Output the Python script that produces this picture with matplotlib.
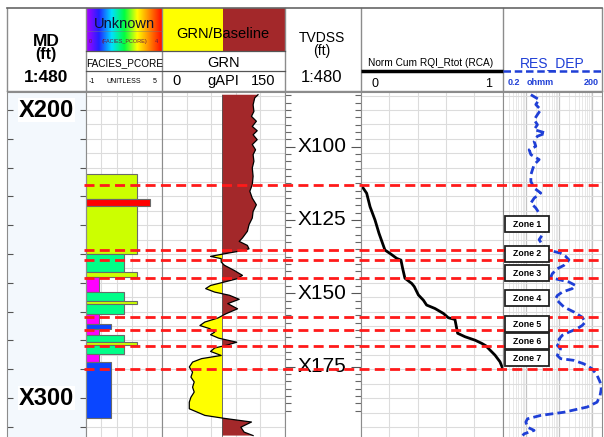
import numpy as np
import matplotlib
matplotlib.use("Agg")
import matplotlib.pyplot as plt
from matplotlib.colors import LinearSegmentedColormap
from matplotlib.patches import Rectangle

plt.rcParams['font.family'] = ['Liberation Sans', 'DejaVu Sans']

# ---- well data (MD in ft, X-prefixed depths) ----
zone_md = [226.2, 248.6, 252.0, 258.3, 272.0, 276.5, 281.8, 289.9]
zone_names = ['Zone 1', 'Zone 2', 'Zone 3', 'Zone 4', 'Zone 5', 'Zone 6', 'Zone 7']
zone_label_md = [239.6, 249.9, 256.6, 265.3, 274.3, 280.2, 286.1]

fac_top = [222.3, 230.9, 233.2, 250.1, 256.1, 258.0, 263.1, 266.3, 267.5,
           270.9, 274.4, 276.0, 278.1, 280.4, 281.6, 284.8, 287.4]
fac_base = [230.9, 233.2, 250.1, 256.1, 258.0, 263.1, 266.3, 267.5, 270.9,
            274.4, 276.0, 278.1, 280.4, 281.6, 284.8, 287.4, 306.8]
fac_code = [3, 4, 3, 2, 3, 0, 2, 3, 2, 0, 1, 0, 2, 3, 2, 0, 1]
fac_colors = ['#ff00ff', '#0a46ff', '#00ff88', '#ccff00', '#ff0000']

gr_md = [194.7, 195.8, 198.2, 200.5, 202.2, 203.9, 205.7, 207.2, 208.6, 210.3,
         212.0, 213.8, 215.5, 217.8, 220.1, 223.0, 225.9, 228.2, 230.6, 232.9,
         235.2, 237.5, 239.8, 242.1, 244.4, 245.6, 247.0, 248.2, 249.1, 249.9,
         250.8, 251.6, 252.8, 253.9, 255.7, 257.4, 258.6, 259.7, 260.9, 262.0,
         263.2, 264.3, 265.7, 267.2, 269.0, 270.7, 272.2, 273.6, 274.8, 275.9,
         277.1, 278.0, 279.2, 280.6, 281.7, 282.6, 283.8, 285.2, 286.3, 287.5,
         289.2, 291.0, 292.7, 294.4, 296.2, 297.9, 299.7, 301.4, 303.7, 306.0,
         307.0, 308.3, 310.1, 311.8, 313.0]
gr_api = [117, 113, 111, 112, 109, 115, 110, 116, 111, 116,
          110, 114, 111, 112, 110, 111, 110, 107, 110, 115,
          111, 110, 106, 104, 98, 94, 104, 106, 92, 76,
          59, 72, 72, 76, 88, 98, 91, 76, 59, 53,
          64, 82, 94, 80, 92, 78, 68, 52, 46, 58,
          64, 59, 69, 91, 78, 64, 59, 72, 48, 37,
          33, 37, 35, 39, 37, 39, 35, 33, 33, 52,
          75, 109, 96, 100, 111]
gr_baseline = 73

rqi_md = [226.0, 228.9, 233.6, 238.2, 242.8, 248.6, 249.8, 251.5, 252.1, 255.0,
          258.4, 260.2, 261.3, 264.2, 266.0, 267.7, 268.9, 270.6, 272.1, 272.7,
          277.5, 278.7, 279.9, 281.0, 281.8, 283.3, 285.1, 287.4, 289.7]
rqi_val = [0.0, 0.04, 0.064, 0.099, 0.127, 0.169, 0.205, 0.252, 0.282, 0.294,
           0.31, 0.358, 0.376, 0.405, 0.44, 0.463, 0.522, 0.581, 0.616, 0.663,
           0.682, 0.734, 0.805, 0.852, 0.88, 0.91, 0.946, 0.981, 1.0]

res_md = [194.7, 196.4, 198.1, 199.9, 201.6, 203.4, 205.1, 206.8, 208.0, 209.1,
          210.9, 212.6, 213.8, 215.5, 217.2, 219.0, 220.7, 222.5, 224.8, 227.1,
          228.8, 230.6, 232.3, 234.0, 235.8, 238.1, 239.8, 241.6, 243.3, 245.0,
          246.8, 248.5, 249.7, 250.8, 252.0,
          252.8, 253.9, 255.1, 256.8, 258.0, 258.6, 259.7, 260.9, 262.0, 263.2,
          264.4, 265.5, 266.7, 268.4, 270.1, 271.9, 273.6, 274.8, 275.9, 277.1,
          278.2, 279.6, 280.6, 281.7, 282.9, 284.0, 285.2, 286.3, 286.9, 288.1,
          289.8, 292.1, 294.4, 296.8, 299.1, 301.4, 303.1, 304.9, 306.0, 307.2,
          308.3, 310.1, 311.2, 312.4, 313.0]
res_ohmm = [1.42, 2.52, 2.0, 2.82, 2.24, 1.78, 2.24, 1.78, 3.99, 2.24,
            1.78, 2.0, 1.26, 1.42, 2.52, 1.78, 1.59, 1.42, 1.42, 1.78,
            2.82, 1.78, 1.42, 2.0, 2.52, 2.24, 2.82, 3.99, 3.17, 2.52,
            3.17, 4.48, 11.2, 15.9, 20.0,
            17.8, 14.2, 8.93, 6.32, 5.64, 7.96, 20.0, 31.7, 25.2, 12.6,
            8.93, 7.96, 10.0, 14.2, 28.3, 50.2, 63.2, 50.2, 35.6, 20.0,
            12.6, 10.0, 11.2, 8.93, 11.2, 10.0, 8.93, 11.2, 28.3, 56.4,
            100, 142, 175, 190, 175, 142, 71.0, 14.2, 2.82, 1.12,
            1.0, 1.12, 1.78, 0.89, 0.80]

md_labels = [200, 300]
tvd_labels = [100, 125, 150, 175]
TVD_REF_MD = 212.7      # MD of TVDSS X100
TVD_STRETCH = 1.0187    # MD ft per TVDSS ft

# ---- layout (pixels) ----
W, H = 604, 437
HDR_TOP, HDR_BOT, BODY_TOP = 8, 91, 92
X_MD, X_FAC, X_GR, X_TVD, X_RQI, X_RES, X_END = 7, 86, 162.3, 285, 361, 502.7, 602
MD_TOP, MD_BOT = 193.75, 313.5
EDGE = '#8c8c8c'
GRID = '#dcdcdc'
BROWN = '#a3282a'
BLUE = '#1f3fd6'

fig = plt.figure(figsize=(W / 100, H / 100), dpi=100)


def px_axes(x0, y0, x1, y1):
    return fig.add_axes([x0 / W, 1 - y1 / H, (x1 - x0) / W, (y1 - y0) / H])


def body_axes(x0, x1, face='white'):
    ax = px_axes(x0, BODY_TOP, x1, H)
    ax.set_facecolor(face)
    ax.set_ylim(MD_BOT, MD_TOP)
    ax.tick_params(which='both', left=False, right=False, bottom=False,
                   labelleft=False, labelbottom=False)
    for s in ax.spines.values():
        s.set_color(EDGE)
    ax.spines['bottom'].set_visible(False)
    return ax


def md_grid(ax):
    ax.set_yticks(np.arange(195, 315, 5))
    ax.grid(axis='y', color=GRID, lw=0.8)
    ax.set_axisbelow(True)


# MD track
ax_md = body_axes(X_MD, X_FAC, face='#f3f8fd')
ax_md.set_xlim(0, 1)
ax_md.set_yticks(np.arange(200, 320, 10))
ax_md.tick_params(axis='y', left=True, right=True, direction='in', length=4,
                  color='#555555', width=0.8)
for d in md_labels:
    ax_md.text(0.5, d, 'X%d' % d, ha='center', va='center', fontsize=17,
               fontweight='bold', bbox=dict(fc='white', ec='none', pad=0.5))

# facies track
ax_fac = body_axes(X_FAC, X_GR)
ax_fac.set_xlim(-1, 5)
ax_fac.set_xticks(np.linspace(-1, 5, 6))
ax_fac.grid(axis='x', color=GRID, lw=0.8)
md_grid(ax_fac)
ftop = np.array(fac_top)
fbase = np.array(fac_base)
fcode = np.array(fac_code)
ax_fac.barh((ftop + fbase) / 2, fcode + 1, height=fbase - ftop, left=-1,
            color=[fac_colors[c] for c in fac_code], edgecolor='#6a6a6a', lw=0.8)

# GR track
ax_gr = body_axes(X_GR, X_TVD)
ax_gr.set_xlim(0, 150)
ax_gr.set_xticks(np.linspace(0, 150, 6))
ax_gr.grid(axis='x', color=GRID, lw=0.8)
md_grid(ax_gr)
gmd = np.array(gr_md)
gapi = np.array(gr_api)
ax_gr.fill_betweenx(gmd, gapi, gr_baseline, where=gapi >= gr_baseline,
                    interpolate=True, color=BROWN, lw=0)
ax_gr.fill_betweenx(gmd, gapi, gr_baseline, where=gapi <= gr_baseline,
                    interpolate=True, color='#ffff00', lw=0)
ax_gr.plot([gr_baseline, gr_baseline], [gmd[0], gmd[-1]], color='#555555', lw=0.6)
ax_gr.plot(gapi, gmd, color='black', lw=0.9)

# TVDSS track
ax_tvd = body_axes(X_TVD, X_RQI)
ax_tvd.set_xlim(0, 1)
tvd_minor = TVD_REF_MD + (np.arange(82.5, 192.5, 2.5) - 100) * TVD_STRETCH
tvd_major = TVD_REF_MD + (np.array(tvd_labels) - 100) * TVD_STRETCH
ax_tvd.set_yticks(tvd_minor, minor=True)
ax_tvd.set_yticks(tvd_major)
ax_tvd.tick_params(axis='y', which='minor', left=True, right=True, direction='in',
                   length=4, color='#666666', width=0.8)
ax_tvd.tick_params(axis='y', which='major', left=True, right=True, direction='in',
                   length=7, color='#555555', width=0.8)
ax_tvd.set_ylim(MD_BOT, MD_TOP)
for t, d in zip(tvd_labels, tvd_major):
    ax_tvd.text(0.49, d, 'X%d' % t, ha='center', va='center', fontsize=15)

# normalised cumulative RQI track
ax_rqi = body_axes(X_RQI, X_RES)
ax_rqi.set_xlim(0, 1)
ax_rqi.set_xticks(np.linspace(0, 1, 6))
ax_rqi.grid(axis='x', color=GRID, lw=0.8)
md_grid(ax_rqi)
ax_rqi.plot(rqi_val, rqi_md, color='black', lw=2)

# resistivity track
ax_res = body_axes(X_RES, X_END)
ax_res.set_xscale('log')
ax_res.set_xlim(0.2, 200)
ax_res.tick_params(which='both', bottom=False, labelbottom=False)
ax_res.grid(axis='x', which='major', color='#c4c4c4', lw=0.9)
ax_res.grid(axis='x', which='minor', color='#e8e8e8', lw=0.7)
md_grid(ax_res)
ax_res.set_ylim(MD_BOT, MD_TOP)
ax_res.plot(res_ohmm, res_md, color=BLUE, lw=2, linestyle=(0, (2.9, 1.5)))

# zone tops and labels over the tracks
ax_z = px_axes(84, BODY_TOP, X_END, H)
ax_z.set_xlim(84, X_END)
ax_z.set_ylim(MD_BOT, MD_TOP)
ax_z.patch.set_alpha(0)
ax_z.axis('off')
ax_z.hlines(zone_md, 84, X_END, colors='#ff1a1a', lw=2, linestyles=[(0, (3.6, 1.9))])
for name, d in zip(zone_names, zone_label_md):
    ax_z.add_patch(Rectangle((504.7, d - 2.85), 44, 5.7, fc='white', ec='#222222',
                             lw=1.3, zorder=5))
    ax_z.text(526.7, d, name, ha='center', va='center', fontsize=6.3,
              fontweight='bold', zorder=6)

# header
hdr = px_axes(0, 0, W, BODY_TOP)
cmap = LinearSegmentedColormap.from_list(
    'facies', ['#b000ff', '#2020ff', '#00e0ff', '#00ff40', '#ffff00', '#ff8000', '#ff0000'])
hdr.imshow(np.linspace(0, 1, 256)[None, :], extent=(X_FAC, X_GR, 51, HDR_TOP),
           aspect='auto', cmap=cmap)
hdr.add_patch(Rectangle((X_GR, HDR_TOP), 223 - X_GR, 51 - HDR_TOP, fc='#ffff00', ec='none'))
hdr.add_patch(Rectangle((223, HDR_TOP), X_TVD - 223, 51 - HDR_TOP, fc=BROWN, ec='none'))
hdr.set_xlim(0, W)
hdr.set_ylim(BODY_TOP, 0)
hdr.axis('off')

for x in [X_MD, X_FAC, X_GR, X_TVD, X_RQI, X_RES, X_END]:
    hdr.plot([x, x], [HDR_TOP, BODY_TOP], color=EDGE, lw=1)
hdr.plot([X_MD, X_END], [HDR_TOP, HDR_TOP], color='#666666', lw=1.2)
hdr.plot([X_MD, X_END], [HDR_BOT, HDR_BOT], color=EDGE, lw=1)
for y in [51, 71]:
    hdr.plot([X_FAC, X_TVD], [y, y], color='#555555', lw=0.9)
hdr.plot([X_FAC, X_GR], [31, 31], color='#777777', lw=0.5, alpha=0.6)

hdr.text(46, 46, 'MD', ha='center', va='baseline', fontsize=12.5, fontweight='bold')
hdr.text(46, 59.5, '(ft)', ha='center', va='baseline', fontsize=11.5, fontweight='bold')
hdr.text(46, 81.7, '1:480', ha='center', va='baseline', fontsize=12.5, fontweight='bold')

hdr.text(124.2, 28.3, 'Unknown', ha='center', va='baseline', fontsize=10.5, color='#101030')
hdr.text(90.7, 42.7, '0', ha='center', va='baseline', fontsize=4, color='#6a1a40')
hdr.text(125, 42.7, '(FACIES_PCORE)', ha='center', va='baseline', fontsize=4, color='#6a1a40')
hdr.text(156.7, 42.7, '4', ha='center', va='baseline', fontsize=4, color='#6a1a40')
hdr.text(124.2, 65.7, 'FACIES_PCORE', ha='center', va='baseline', fontsize=7.2)
hdr.text(91.7, 83.3, '-1', ha='center', va='baseline', fontsize=5)
hdr.text(123.7, 83.3, 'UNITLESS', ha='center', va='baseline', fontsize=5)
hdr.text(155, 83.3, '5', ha='center', va='baseline', fontsize=5)

hdr.text(223.3, 38.3, 'GRN/Baseline', ha='center', va='baseline', fontsize=10.5)
hdr.text(223.3, 66.7, 'GRN', ha='center', va='baseline', fontsize=10.5)
hdr.text(176.7, 85, '0', ha='center', va='baseline', fontsize=10.5)
hdr.text(223.3, 85, 'gAPI', ha='center', va='baseline', fontsize=10.5)
hdr.text(263.3, 85, '150', ha='center', va='baseline', fontsize=10.5)

hdr.text(322, 42, 'TVDSS', ha='center', va='baseline', fontsize=10)
hdr.text(322, 55.5, '(ft)', ha='center', va='baseline', fontsize=10)
hdr.text(322, 81.7, '1:480', ha='center', va='baseline', fontsize=12)

hdr.text(430.8, 65.7, 'Norm Cum RQI_Rtot (RCA)', ha='center', va='baseline', fontsize=7.3)
hdr.plot([X_RQI, X_RES], [71, 71], color='black', lw=2.5, solid_capstyle='butt')
hdr.text(375, 86.7, '0', ha='center', va='baseline', fontsize=9)
hdr.text(489, 86.7, '1', ha='center', va='baseline', fontsize=9)

hdr.text(552.5, 66.7, 'RES_DEP', ha='center', va='baseline', fontsize=10, color=BLUE)
hdr.plot([X_RES, X_END], [71, 71], color=BLUE, lw=1.8, linestyle=(0, (3, 1.5)))
hdr.text(514, 85, '0.2', ha='center', va='baseline', fontsize=6.5, color=BLUE, fontweight='bold')
hdr.text(540, 85, 'ohmm', ha='center', va='baseline', fontsize=6.5, color=BLUE, fontweight='bold')
hdr.text(591.7, 85, '200', ha='center', va='baseline', fontsize=6.5, color=BLUE, fontweight='bold')

fig.savefig('out.png', dpi=100)
